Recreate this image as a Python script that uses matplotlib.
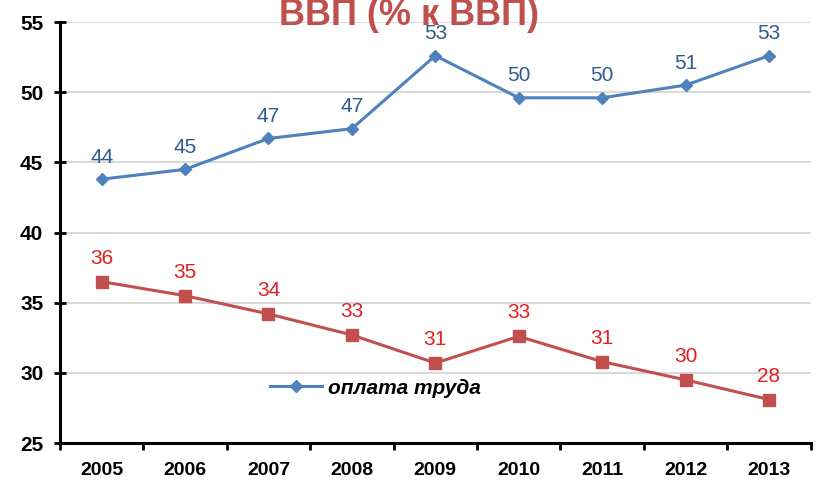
import matplotlib
matplotlib.use("Agg")
import matplotlib.pyplot as plt
import numpy as np

plt.rcParams['font.family'] = ['Liberation Sans', 'DejaVu Sans']

years = ['2005', '2006', '2007', '2008', '2009', '2010', '2011', '2012', '2013']
# оплата труда
wages = [43.8, 44.5, 46.7, 47.4, 52.6, 49.6, 49.6, 50.5, 52.6]
wages_lbl = [44, 45, 47, 47, 53, 50, 50, 51, 53]
# вторая серия (без подписи в легенде)
other = [36.5, 35.5, 34.2, 32.7, 30.7, 32.6, 30.8, 29.5, 28.1]
other_lbl = [36, 35, 34, 33, 31, 33, 31, 30, 28]

blue = '#4F81BD'
red = '#C0504D'

fig = plt.figure(figsize=(8.18, 4.98), dpi=100)
ax = fig.add_axes([0.0733, 0.1104, 0.9177, 0.8454])

x = np.arange(len(years))
ax.plot(x, wages, color=blue, lw=2.2, marker='D', ms=6, label='оплата труда')
ax.plot(x, other, color=red, lw=2.2, marker='s', ms=8)

for xi, v, t in zip(x, wages, wages_lbl):
    ax.annotate(str(t), (xi, v), xytext=(0, 9), textcoords='offset points',
                ha='center', va='bottom', fontsize=15, color='#2E5C8F')
for xi, v, t in zip(x, other, other_lbl):
    ax.annotate(str(t), (xi, v), xytext=(0, 10), textcoords='offset points',
                ha='center', va='bottom', fontsize=15, color='#E0201F')

ax.set_xlim(-0.5, len(years) - 0.5)
ax.set_ylim(25, 55)
ax.set_yticks(range(25, 56, 5))
ax.set_xticks(x)
ax.set_xticklabels(years, fontsize=14, fontweight='bold')
ax.set_xticks(np.arange(-0.5, len(years)), minor=True)
ax.tick_params(axis='x', which='major', length=0, pad=14)
ax.tick_params(axis='x', which='minor', length=5, width=2, direction='out')
ax.tick_params(axis='y', labelsize=15, length=8, width=2, direction='inout', pad=8)
for t in ax.get_yticklabels():
    t.set_fontweight('bold')

ax.grid(axis='y', color='#D9D9D9', lw=1.5)
ax.set_axisbelow(True)
for s in ['top', 'right']:
    ax.spines[s].set_visible(False)
for s in ['left', 'bottom']:
    ax.spines[s].set_linewidth(2.2)

ax.legend(loc='center left', bbox_to_anchor=(0.255, 0.13), frameon=False,
          prop={'style': 'italic', 'weight': 'bold', 'size': 15},
          handlelength=2.5, handletextpad=0.3)

# заголовок обрезан сверху, как на исходной картинке
fig.text(0.5, 1 - 25 / 498, 'ВВП (% к ВВП)', ha='center', va='baseline',
         fontsize=26, fontweight='bold', color=red)

fig.savefig('out.png', dpi=100)
